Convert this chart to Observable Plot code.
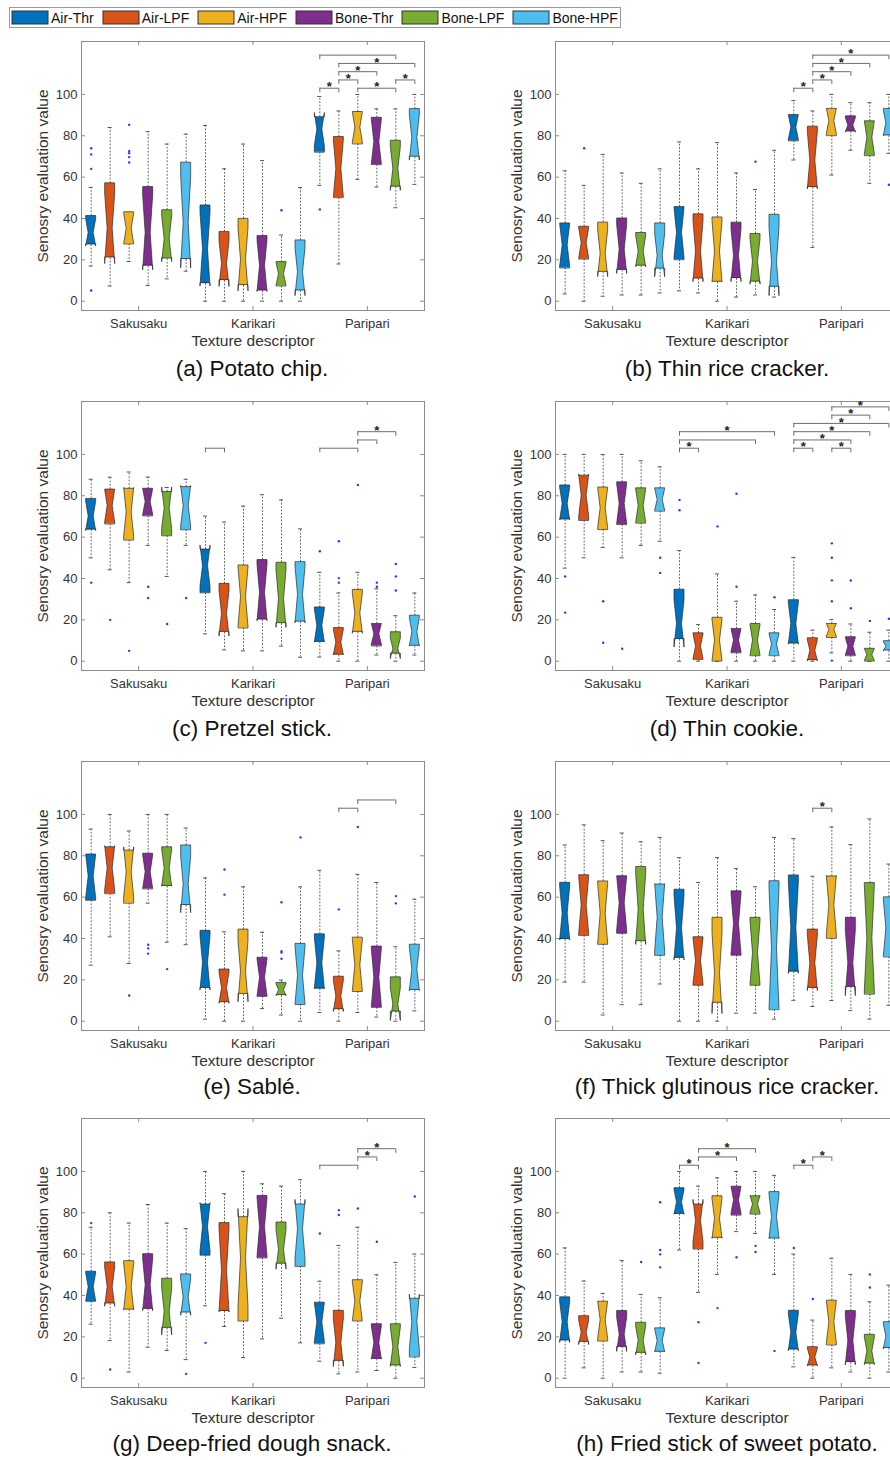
<!DOCTYPE html>
<html><head><meta charset="utf-8">
<script src="https://cdn.jsdelivr.net/npm/d3@7"></script>
<script src="https://cdn.jsdelivr.net/npm/@observablehq/plot@0.6"></script>
<style>
body{margin:0;background:#fff;}
#root{position:relative;width:890px;height:1460px;overflow:hidden;font-family:"Liberation Sans",Arial,sans-serif;background:#fff;}
.panel{position:absolute;width:445px;height:316px;}
.panel svg{overflow:visible;max-width:none !important;width:445px;height:316px;}
.cap{position:absolute;width:445px;text-align:center;font-size:22.5px;line-height:26px;color:#111;white-space:nowrap;}
#legend{position:absolute;left:9px;top:7px;width:612px;height:21px;border:1px solid #9a9a9a;background:#fff;box-sizing:border-box;padding-left:1px;}
#legend .lg-swatches{font-family:"Liberation Sans",Arial,sans-serif !important;font-size:14px !important;min-height:0 !important;margin:0 !important;height:19px;color:#111;flex-wrap:nowrap !important;display:flex;align-items:center;}
#legend .lg-swatch{margin-right:8px !important;white-space:nowrap;flex-shrink:0;}
#legend .lg-swatch > svg{margin-right:3px !important;margin-left:1px;flex-shrink:0;}
#legend .lg-swatch rect{stroke:#333;stroke-width:1px;}
</style></head><body><div id="root"><div id="legend"></div></div>
<script>
// ---------- categories ----------
const groups = ["Sakusaku", "Karikari", "Paripari"];
const seriesNames = ["Air-Thr", "Air-LPF", "Air-HPF", "Bone-Thr", "Bone-LPF", "Bone-HPF"];
const seriesColors = ["#0072BD", "#D95319", "#EDB120", "#7E2F8E", "#77AC30", "#4DBEEE"];
const yTicks = [0, 20, 40, 60, 80, 100];
const captions = ["(a) Potato chip.", "(b) Thin rice cracker.", "(c) Pretzel stick.", "(d) Thin cookie.",
  "(e) Sablé.", "(f) Thick glutinous rice cracker.", "(g) Deep-fried dough snack.", "(h) Fried stick of sweet potato."];
const nSubjects = 11; // used for the notch half-width, as MATLAB's boxplot does

// ---------- box statistics: [lower whisker, Q1, median, Q3, upper whisker], 18 boxes (3 descriptors x 6 conditions) ----------
const boxesA = [[17,27.3,33,41.2,55],[7.3,21,35,57,84],[19.2,27.6,35,43,43],[7.6,17,33,55.2,82],[10.8,20.5,30,44,76],[14.5,20.2,38,67,80.8],
  [0,8.5,25,46.3,85],[0,10,18,33.5,64],[0,7.6,20,39.8,76],[0,5,17,31.5,68],[0,7.3,13,18.9,32],[0,5,14,29.4,55],
  [56,72,83,89,99],[18,50,64,79.4,92],[58.9,76,84,91.5,100],[55.2,66,77,88.7,93],[45.2,55.2,64,77.6,93],[56.5,69.7,79,92.9,100]];
const boxesB = [[3.5,16,27,37.6,63],[0,20.3,28,36,56],[2.4,14,23,38,71],[3,15,25,40,62],[3,17,24,33,57],[4,15.6,22,37.6,64],
  [5,20,33,45.5,77],[4,10.8,24,42,64],[0,9.2,24,40.5,76.7],[2,11,22,38,62],[3,9.3,19,32.5,54],[2,6.8,19,41.8,73],
  [68.3,77.5,84,90,97],[26,55,68,84.4,92],[61,80,87,93,100],[73,82,85,89.4,96],[57,70.3,79,87,96],[71.5,80,86,93,100]];
const boxesC = [[50,63.5,70,78.5,88],[44.2,66.3,75,83,89],[38,58.5,72,83.4,91.5],[56,70.2,77,83.4,89],[41,60.6,74,81.8,84],[56,63.5,75,84.2,88],
  [13.2,33,46,54,70.2],[5.5,14,23,37.4,67.3],[5,16,31,46.3,75],[5,20,33,48.9,80.5],[7.3,18.2,30,47.6,78],[1.9,19,32,47.9,64],
  [2,9.2,17,26,43],[0,3,9,16,33],[0,14,23,34.5,43],[3,7.3,13,18,35],[0,3.5,6,14,22],[3,7.3,14,22,33]];
const boxesD = [[45,68.4,76,85,100],[50,68,80,89.7,100],[55,63.6,74,84,100],[50,66,76,86.5,100],[56,66.7,75,83.6,96.9],[58,72.5,78,83.6,94],
  [0,10.5,18,34.6,53.5],[0,0.8,7,13.5,17.7],[0,0,10,21,42.2],[0,4,10,15.6,29],[0,2.6,10,18,32],[0,2.6,8,13.5,25],
  [0,8.4,18,29.5,50.2],[0,0.3,5,11.1,15],[4,11.4,15,18,20.1],[0,2.6,7,11.6,18],[0,0,3,6,14],[0,5,7,9.7,15]];
const boxesE = [[27.1,58.4,70,80.6,92.9],[40.8,61.6,74,84.1,100],[27.9,57,72,82.5,92],[57.1,63.9,72,81,100],[38.2,65.2,74,84.1,100],[37,56,66,85,93.4],
  [1,15.9,28,43.7,69.3],[0,9,16,25,43.2],[0,13,24,44.3,65],[6.1,11.9,21,30.7,43],[3,12.4,15,18.5,19.9],[0,8,22,37.4,65],
  [4.2,15.6,28,42,73],[0,5.6,12,21.5,34],[4.2,14.3,27,40.4,71],[2,6.6,21,36.1,67.1],[0,4.5,8,21.2,36],[5,14.9,25,37,59]];
const boxesF = [[18.9,39.5,52,66.9,85.2],[18.9,41.4,56,70.6,95],[3,37.1,52,67.6,87.3],[8,42.4,57,70.1,91],[8,38.5,54,74.6,86.8],[18,31.8,50,66.1,88.9],
  [0,30.5,45,63.6,79.1],[0,17.3,29,40.6,67.1],[0,8.7,23,50,79.1],[3.9,31.8,47,62.8,73.8],[3.9,17.3,33,50,65],[1,5.5,35,67.7,88.9],
  [10.1,23.8,45,70.5,88.3],[7.1,15.9,28,44.3,70.1],[10,40,56,70,93.9],[5.1,16.4,28,50,85.4],[1,13,40,66.8,97.8],[7.7,31,45,59.9,76]];
const boxesG = [[26.1,37.1,44,51.5,73],[18.2,36,44,56,80],[3,33,44,56.6,75],[15,33.4,45,60,84],[13.4,24.2,32,48.1,75],[9,31.6,39,50.2,72.3],
  [35,59.4,73,84,100],[25,32.3,52,75,89.2],[10,27.6,58,77.9,100],[19,58.1,73,88.1,94],[29,55.2,62,75.3,92.9],[17.1,54,72,84,96],
  [8.2,16.6,27,36.5,46.9],[2.1,8.2,17,32.6,64.2],[3,27.6,37,47.4,73],[3.7,9.2,17,26.1,50],[0,6,15,26.1,56],[5.2,10.2,27,38.4,60]];
const boxesH = [[0,18.1,27,39.1,63],[5,17.4,22,30,47],[0,17.9,28,37,41],[3,15,21,32.5,56.9],[3,12.1,18,26.8,40.5],[2.4,12.6,18,24.1,38.9],
  [62,79.3,85,91.9,100],[41.5,62.4,76,84,92.9],[50.2,67.7,77,88,96.9],[70.9,78.8,86,92.6,100],[70,79.3,84,88,100],[50.2,67.4,78,90,98.1],
  [5.5,13.7,22,32.6,60],[0,6,10,15,28.1],[5,16,27,37.5,58],[3,7.6,18,32.5,50.2],[0,6.9,13,21,37],[3,14.4,20,27.1,45]];

// ---------- outliers per box ----------
const outA = [[74,71,64,5.2],[],[85.3,72.6,71.6,69.7,67.1],[],[],[], [],[],[],[],[44],[], [44.4],[],[],[],[],[]];
const outB = [[],[74],[],[],[],[], [],[],[],[],[67.5],[], [],[],[],[],[],[56.3]];
const outC = [[38],[20],[5],[36,30.6],[18],[30.6], [],[],[],[],[],[], [53.2],[58,40.2,38],[85.2],[38,36],[47,41,34.2],[]];
const outD = [[41,23.5],[],[29,8.9],[6],[],[50,42.7], [78,73],[],[65.2],[81,36],[],[30.9], [],[],[57,50,39.1,29,0.3],[39,25.6],[19.5],[20.5]];
const outE = [[],[],[12.4],[37,35.2,32.7],[25.2],[], [],[73.4,61.2],[],[],[57.5,33.9,33.2,30.2],[88.9], [],[54.1],[93.9],[],[60.5,57],[]];
const outF = [[],[],[],[],[],[], [],[],[],[],[],[], [],[],[],[],[],[]];
const outG = [[75],[4.2],[],[],[],[2.1], [17.1],[],[],[],[],[], [70],[81.3,78.9],[82.1],[66],[],[87.9]];
const outH = [[],[],[],[],[56.2],[85.1,62,59.9,53.6], [],[27.1,7.4],[33.9],[58.5],[64,61],[13.2], [63],[38.3],[],[],[50.2,43.9],[]];

// ---------- significance brackets: [from box, to box, tier, significant] ----------
const sigA = [[12,13,1,true],[13,14,2,true],[13,15,3,true],[13,17,4,true],[12,16,5,false],[14,16,1,true],[16,17,2,true]];
const sigB = [[12,13,1,true],[13,14,2,true],[13,15,3,true],[13,16,4,true],[13,17,5,true]];
const sigC = [[6,7,1,false],[12,14,1,false],[14,15,2,false],[14,16,3,true]];
const sigD = [[6,7,1,true],[6,10,2,false],[6,11,3,true],[12,13,1,true],[14,15,1,true],[12,15,2,true],[12,16,3,true],[12,17,4,true],[14,16,5,true],[14,17,6,true]];
const sigE = [[13,14,1,false],[14,16,2,false]];
const sigF = [[13,14,1,true]];
const sigG = [[12,14,1,false],[14,15,2,true],[14,16,3,true]];
const sigH = [[6,7,1,true],[7,9,2,true],[7,10,3,true],[12,13,1,true],[13,14,2,true]];

const panels = [
  [boxesA, outA, sigA], [boxesB, outB, sigB], [boxesC, outC, sigC], [boxesD, outD, sigD],
  [boxesE, outE, sigE], [boxesF, outF, sigF], [boxesG, outG, sigG], [boxesH, outH, sigH]
];

// ---------- layout ----------
const W = 445, H = 316, ML = 81, MR = 21, MT = 2, MB = 45;
const xDom = [0.5, 3.5], yDom = [-4.5, 125.6];
const pxX = (W - ML - MR) / (xDom[1] - xDom[0]);
const pxY = (H - MT - MB) / (yDom[1] - yDom[0]);
const STEP = 19 / pxX, HALF = 5 / pxX, CAP = 2 / pxX, TICK_X = 4 / pxX, TICK_Y = 4 / pxY;
const rowTops = [41, 401, 761, 1117.5];
const capCenters = [369, 729, 1087, 1444];
const colLefts = [0, 474];
const capCols = [252, 727];
const xOf = k => Math.floor(k / 6) + 1 + (k % 6 - 2.5) * STEP;
const tierY = t => 103 + 4 * (t - 1);
const font = '"Liberation Sans", Arial, sans-serif';

function makePanel(boxes, outs, sigs) {
  const rows = boxes.map((b, k) => ({k, series: seriesNames[k % 6], wl: b[0], q1: b[1], med: b[2], q3: b[3], wh: b[4]}));
  const poly = rows.flatMap(r => {
    const n = 1.57 * (r.q3 - r.q1) / Math.sqrt(nSubjects);
    const x = xOf(r.k);
    return [[r.q1, 1], [r.med - n, 1], [r.med, 0.5], [r.med + n, 1], [r.q3, 1]]
      .map(([y, f]) => ({k: r.k, series: r.series, y, x1: x - HALF * f, x2: x + HALF * f}));
  });
  const outliers = outs.flatMap((vals, k) => vals.map(v => ({k, v})));
  const drops = sigs.flatMap(s => [{x: xOf(s[0]), t: s[2]}, {x: xOf(s[1]), t: s[2]}]);
  return Plot.plot({
    width: W, height: H, marginLeft: ML, marginRight: MR, marginTop: MT, marginBottom: MB,
    x: {domain: xDom}, y: {domain: yDom},
    color: {domain: seriesNames, range: seriesColors},
    style: {fontFamily: font, fontSize: "13px", color: "#333", background: "transparent"},
    marks: [
      Plot.frame({stroke: "#8c8c8c", strokeWidth: 1}),
      // inward ticks on all four sides
      Plot.ruleY(yTicks, {y: d => d, x1: xDom[0], x2: xDom[0] + TICK_X, stroke: "#8c8c8c"}),
      Plot.ruleY(yTicks, {y: d => d, x1: xDom[1] - TICK_X, x2: xDom[1], stroke: "#8c8c8c"}),
      Plot.ruleX([1, 2, 3], {x: d => d, y1: yDom[0], y2: yDom[0] + TICK_Y, stroke: "#8c8c8c"}),
      Plot.ruleX([1, 2, 3], {x: d => d, y1: yDom[1] - TICK_Y, y2: yDom[1], stroke: "#8c8c8c"}),
      Plot.axisY({ticks: yTicks, tickSize: 0, tickPadding: 4, label: null, fontSize: 13}),
      Plot.axisX({ticks: [1, 2, 3], tickFormat: d => groups[d - 1], tickSize: 0, tickPadding: 8, label: null, fontSize: 13}),
      Plot.text(["Senosry evaluation value"], {frameAnchor: "left", dx: -38, rotate: -90, textAnchor: "middle", lineAnchor: "middle", fontSize: 15.5, fill: "#333"}),
      Plot.text(["Texture descriptor"], {frameAnchor: "bottom", dy: 31, textAnchor: "middle", lineAnchor: "middle", fontSize: 15.5, fill: "#333"}),
      // whiskers
      Plot.ruleX(rows, {x: r => xOf(r.k), y1: "q3", y2: "wh", stroke: "#555", strokeWidth: 0.9, strokeDasharray: "1.8,1.6"}),
      Plot.ruleX(rows, {x: r => xOf(r.k), y1: "q1", y2: "wl", stroke: "#555", strokeWidth: 0.9, strokeDasharray: "1.8,1.6"}),
      Plot.ruleY(rows, {y: "wh", x1: r => xOf(r.k) - CAP, x2: r => xOf(r.k) + CAP, stroke: "#555"}),
      Plot.ruleY(rows, {y: "wl", x1: r => xOf(r.k) - CAP, x2: r => xOf(r.k) + CAP, stroke: "#555"}),
      // notched boxes
      Plot.areaX(poly, {y: "y", x1: "x1", x2: "x2", z: "k", fill: "series", stroke: "#2a2a2a", strokeWidth: 0.7, curve: "linear"}),
      // outliers
      Plot.dot(outliers, {x: d => xOf(d.k), y: "v", r: 1.2, fill: "#3535f0", stroke: null}),
      // significance brackets
      Plot.ruleY(sigs, {y: s => tierY(s[2]), x1: s => xOf(s[0]), x2: s => xOf(s[1]), stroke: "#6e6e6e", strokeWidth: 1}),
      Plot.ruleX(drops, {x: "x", y1: d => tierY(d.t), y2: d => tierY(d.t) - 2.2, stroke: "#6e6e6e", strokeWidth: 1}),
      Plot.text(sigs.filter(s => s[3]), {x: s => (xOf(s[0]) + xOf(s[1])) / 2, y: s => tierY(s[2]), text: () => "*", dy: -1, fontSize: 13, fontWeight: "bold", fill: "#222"})
    ]
  });
}

const root = document.getElementById("root");
panels.forEach(([b, o, s], i) => {
  const col = i % 2, row = Math.floor(i / 2);
  const wrap = document.createElement("div");
  wrap.className = "panel";
  wrap.style.left = colLefts[col] + "px";
  wrap.style.top = (rowTops[row] - MT) + "px";
  wrap.appendChild(makePanel(b, o, s));
  root.appendChild(wrap);
  const cap = document.createElement("div");
  cap.className = "cap";
  cap.textContent = captions[i];
  cap.style.left = (capCols[col] - W / 2) + "px";
  cap.style.top = (capCenters[row] - 13) + "px";
  root.appendChild(cap);
});

document.getElementById("legend").appendChild(Plot.legend({
  color: {type: "ordinal", domain: seriesNames, range: seriesColors},
  swatchWidth: 36, swatchHeight: 13, className: "lg"
}));
</script></body></html>
